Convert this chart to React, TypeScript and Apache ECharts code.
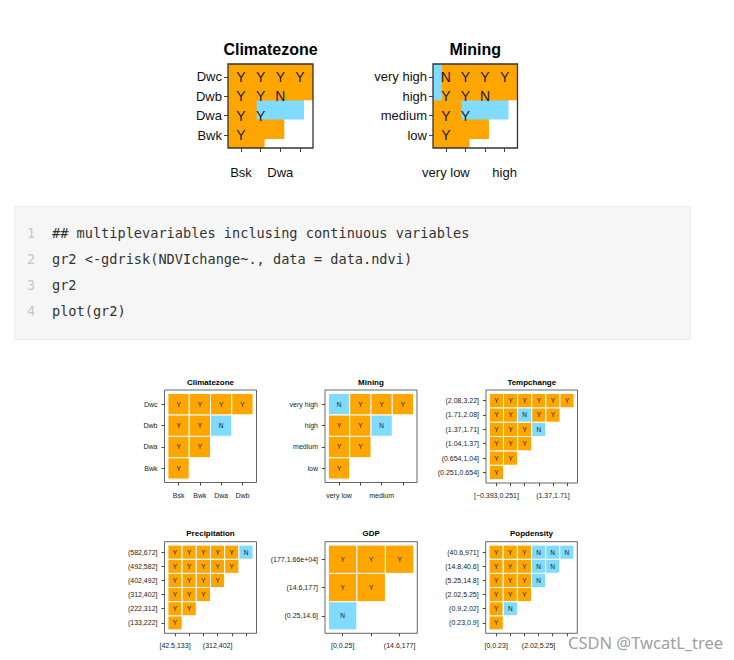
import React, { useEffect, useRef } from 'react';
import * as echarts from 'echarts';

// ---------- data ----------
const climRows = ['Dwc', 'Dwb', 'Dwa', 'Bwk'];
const climCols = ['Bsk', 'Bwk', 'Dwa', 'Dwb'];
const climSig = [['Y', 'Y', 'Y', 'Y'], ['Y', 'Y', 'N'], ['Y', 'Y'], ['Y']];

const miningRows = ['very high', 'high', 'medium', 'low'];
const miningCols = ['very low', 'low', 'medium', 'high'];
const miningSig = [['N', 'Y', 'Y', 'Y'], ['Y', 'Y', 'N'], ['Y', 'Y'], ['Y']];

const tempRows = ['(2.08,3.22]', '(1.71,2.08]', '(1.37,1.71]', '(1.04,1.37]', '(0.654,1.04]', '(0.251,0.654]'];
const tempCols = ['[\u22120.393,0.251]', '(0.251,0.654]', '(0.654,1.04]', '(1.04,1.37]', '(1.37,1.71]', '(1.71,2.08]'];
const tempSig = [['Y', 'Y', 'Y', 'Y', 'Y', 'Y'], ['Y', 'Y', 'N', 'Y', 'Y'], ['Y', 'Y', 'Y', 'N'], ['Y', 'Y', 'Y'], ['Y', 'Y'], ['Y']];

const precRows = ['(582,672]', '(492,582]', '(402,492]', '(312,402]', '(222,312]', '(133,222]'];
const precCols = ['[42.5,133]', '(133,222]', '(222,312]', '(312,402]', '(402,492]', '(492,582]'];
const precSig = [['Y', 'Y', 'Y', 'Y', 'Y', 'N'], ['Y', 'Y', 'Y', 'Y', 'Y'], ['Y', 'Y', 'Y', 'Y'], ['Y', 'Y', 'Y'], ['Y', 'Y'], ['Y']];

const gdpRows = ['(177,1.66e+04]', '(14.6,177]', '(0.25,14.6]'];
const gdpCols = ['[0,0.25]', '(0.25,14.6]', '(14.6,177]'];
const gdpSig = [['Y', 'Y', 'Y'], ['Y', 'Y'], ['N']];

const popRows = ['(40.6,971]', '(14.8,40.6]', '(5.25,14.8]', '(2.02,5.25]', '(0.9,2.02]', '(0.23,0.9]'];
const popCols = ['[0,0.23]', '(0.23,0.9]', '(0.9,2.02]', '(2.02,5.25]', '(5.25,14.8]', '(14.8,40.6]'];
const popSig = [['Y', 'Y', 'Y', 'N', 'N', 'N'], ['Y', 'Y', 'Y', 'N', 'N'], ['Y', 'Y', 'Y', 'N'], ['Y', 'Y', 'Y'], ['Y', 'N'], ['Y']];

const codeLines = [
  '## multiplevariables inclusing continuous variables',
  'gr2 <-gdrisk(NDVIchange~., data = data.ndvi)',
  'gr2',
  'plot(gr2)',
];

// ---------- styles / layout ----------
const ORANGE = '#FFA500';
const BLUE = '#7FDBFF';
const FONT = '"Liberation Sans", Arial, sans-serif';
const MONO = '"DejaVu Sans Mono", "Liberation Mono", monospace';

const panels = [
  { title: 'Climatezone', rows: climRows, cols: climCols, sig: climSig, xShown: [1, 3], box: [228, 64, 85, 84], big: true },
  { title: 'Mining', rows: miningRows, cols: miningCols, sig: miningSig, xShown: [1, 4], box: [433, 64, 84.5, 84], big: true },
  { title: 'Climatezone', rows: climRows, cols: climCols, sig: climSig, xShown: [1, 2, 3, 4], box: [164.5, 390, 92, 92.5], big: false },
  { title: 'Mining', rows: miningRows, cols: miningCols, sig: miningSig, xShown: [1, 3], box: [325, 390, 92, 92.5], big: false },
  { title: 'Tempchange', rows: tempRows, cols: tempCols, sig: tempSig, xShown: [1, 5], box: [486, 390, 91.5, 93], big: false },
  { title: 'Precipitation', rows: precRows, cols: precCols, sig: precSig, xShown: [1, 4], box: [164.5, 541.7, 92, 91.6], big: false },
  { title: 'GDP', rows: gdpRows, cols: gdpCols, sig: gdpSig, xShown: [1, 3], box: [325, 541.7, 92.3, 91.6], big: false },
  { title: 'Popdensity', rows: popRows, cols: popCols, sig: popSig, xShown: [1, 4], box: [485.7, 541.7, 91.6, 91.6], big: false },
];

function seq(n: number) {
  const a: number[] = [];
  for (let i = 1; i <= n; i++) a.push(i);
  return a;
}

function buildOption() {
  const grid: any[] = [];
  const xAxis: any[] = [];
  const yAxis: any[] = [];
  const series: any[] = [];
  const graphic: any[] = [];

  panels.forEach((p, k) => {
    const [left, top, width, height] = p.box;
    const nx = p.cols.length;
    const ny = p.rows.length;
    const fs = p.big ? 13 : 7;
    grid.push({
      left, top, width, height, show: true, z: 3,
      borderColor: p.big ? '#333' : '#555', borderWidth: p.big ? 1.3 : 0.9,
      backgroundColor: 'transparent',
    });
    xAxis.push({
      gridIndex: k, type: 'value',
      min: 0.5 - 0.04 * nx, max: nx + 0.5 + 0.04 * nx,
      axisLine: { show: false, onZero: false },
      splitLine: { show: false },
      axisTick: { show: true, customValues: seq(nx), length: p.big ? 4 : 3, lineStyle: { color: '#444', width: 1 } },
      axisLabel: {
        customValues: p.xShown,
        formatter: (v: number) => p.cols[Math.round(v) - 1] || '',
        fontSize: fs, fontFamily: FONT, color: p.big ? '#111' : '#222', margin: p.big ? 18 : 9,
      },
    });
    yAxis.push({
      gridIndex: k, type: 'value',
      min: 0.5 - 0.04 * ny, max: ny + 0.5 + 0.04 * ny,
      axisLine: { show: false, onZero: false },
      splitLine: { show: false },
      axisTick: { show: true, customValues: seq(ny), length: p.big ? 4 : 3, lineStyle: { color: '#444', width: 1 } },
      axisLabel: {
        customValues: seq(ny),
        formatter: (v: number) => p.rows[ny - Math.round(v)] || '',
        fontSize: fs, fontFamily: FONT, color: p.big ? '#111' : '#222', margin: p.big ? 6 : 7,
      },
    });

    // data: [x, y, sig(1=Y,0=N)], rows drawn bottom -> top, left -> right
    const data: number[][] = [];
    for (let i = ny - 1; i >= 0; i--) {
      p.sig[i].forEach((s, j) => {
        data.push([j + 1, ny - i, s === 'Y' ? 1 : 0]);
      });
    }
    const scale = p.big ? 2.4 : 1;
    series.push({
      type: 'custom', coordinateSystem: 'cartesian2d', xAxisIndex: k, yAxisIndex: k, z: 1, silent: true,
      data,
      renderItem: (params: any, api: any) => {
        const c = api.coord([api.value(0), api.value(1)]);
        const s = api.size([1, 1]);
        const w = s[0] * scale;
        const h = s[1] * scale;
        const cs = params.coordSys;
        const r = echarts.graphic.clipRectByRect(
          { x: c[0] - w / 2, y: c[1] - h / 2, width: w, height: h },
          { x: cs.x, y: cs.y, width: cs.width, height: cs.height }
        );
        if (!r) return null;
        return {
          type: 'rect', shape: r,
          style: { fill: api.value(2) ? ORANGE : BLUE, stroke: p.big ? null : '#ffffff', lineWidth: p.big ? 0 : 1 },
        };
      },
    });
    series.push({
      type: 'custom', coordinateSystem: 'cartesian2d', xAxisIndex: k, yAxisIndex: k, z: 5, silent: true,
      data,
      renderItem: (params: any, api: any) => {
        const c = api.coord([api.value(0), api.value(1)]);
        return {
          type: 'text', x: c[0], y: c[1],
          style: {
            text: api.value(2) ? 'Y' : 'N', fill: '#1a1a1a',
            fontSize: p.big ? 14 : 6.5, fontFamily: FONT,
            textAlign: 'center', textVerticalAlign: 'middle',
          },
        };
      },
    });

    graphic.push({
      type: 'text', x: left + width / 2, y: p.big ? top - 15 : top - 8,
      style: {
        text: p.title, fill: '#000', fontSize: p.big ? 16 : 8, fontWeight: 'bold', fontFamily: FONT,
        textAlign: 'center', textVerticalAlign: 'middle',
      },
    });
  });

  // code block
  graphic.push({
    type: 'rect', shape: { x: 14.5, y: 206.5, width: 676, height: 133 },
    style: { fill: '#f6f6f6', stroke: '#ececec', lineWidth: 1 }, z: 0,
  });
  codeLines.forEach((line, i) => {
    const y = 233 + i * 26;
    graphic.push({
      type: 'text', x: 31, y,
      style: { text: String(i + 1), fill: '#c8c8c8', fontSize: 13.5, fontFamily: MONO, textAlign: 'center', textVerticalAlign: 'middle' },
    });
    graphic.push({
      type: 'text', x: 52, y,
      style: { text: line, fill: '#333', fontSize: 13.6, fontFamily: MONO, textAlign: 'left', textVerticalAlign: 'middle' },
    });
  });

  // watermark
  graphic.push({
    type: 'text', x: 568, y: 642,
    style: { text: 'CSDN @TwcatL_tree', fill: '#a0a0a0', fontSize: 16.5, fontFamily: '"Noto Sans", sans-serif', textAlign: 'left', textVerticalAlign: 'middle' },
  });

  return {
    animation: false,
    backgroundColor: '#ffffff',
    grid, xAxis, yAxis, series, graphic,
  };
}

export default function App() {
  const ref = useRef<HTMLDivElement>(null);
  useEffect(() => {
    if (!ref.current) return;
    const chart = echarts.init(ref.current, undefined, { renderer: 'svg' });
    chart.setOption(buildOption() as any);
    return () => chart.dispose();
  }, []);
  return (
    <div
      ref={ref}
      style={{ position: 'absolute', left: 0, top: 0, width: 734, height: 660, background: '#fff' }}
    />
  );
}
